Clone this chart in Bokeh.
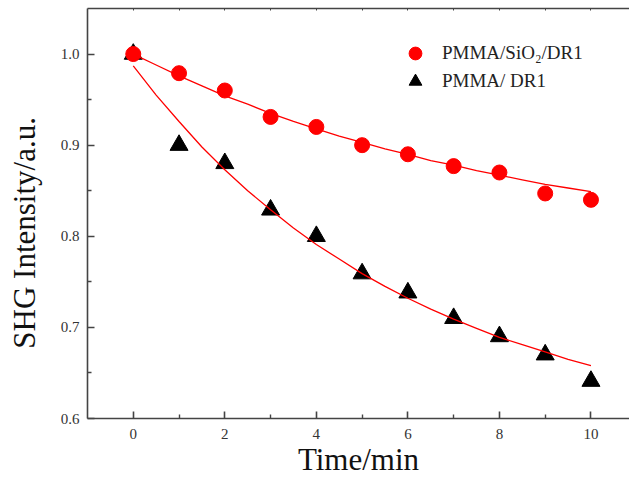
from bokeh.plotting import figure
from bokeh.models import (Range1d, LinearAxis, FixedTicker, Legend, LegendItem,
                          NumeralTickFormatter)
from bokeh.embed import file_html
from bokeh.resources import INLINE

# ---- data ----
time_min = [0, 1, 2, 3, 4, 5, 6, 7, 8, 9, 10]
shg_sio2 = [1.000, 0.979, 0.960, 0.931, 0.920, 0.900, 0.890, 0.877, 0.870, 0.847, 0.840]
shg_pmma = [1.000, 0.900, 0.880, 0.829, 0.800, 0.759, 0.738, 0.710, 0.690, 0.670, 0.641]

fit_time = [0, 0.5, 1, 1.5, 2, 2.5, 3, 3.5, 4, 4.5, 5, 5.5, 6, 6.5, 7, 7.5, 8, 8.5, 9, 9.5, 10]
fit_sio2 = [1.000, 0.988, 0.976, 0.965, 0.954, 0.945, 0.935, 0.926, 0.918, 0.910, 0.903,
            0.896, 0.890, 0.883, 0.878, 0.872, 0.867, 0.862, 0.857, 0.853, 0.849]
fit_pmma = [0.987, 0.955, 0.926, 0.898, 0.873, 0.850, 0.829, 0.809, 0.791, 0.775, 0.759,
            0.745, 0.732, 0.720, 0.709, 0.699, 0.689, 0.681, 0.673, 0.665, 0.658]

x_major = [0, 2, 4, 6, 8, 10]
x_minor = [1, 3, 5, 7, 9]
y_major = [0.6, 0.7, 0.8, 0.9, 1.0]
y_minor = [0.65, 0.75, 0.85, 0.95]

FONT = "Liberation Serif"
AX = "#444444"
RED = "#ff0000"

p = figure(width=629, height=479, output_backend="svg", toolbar_location=None,
           x_range=Range1d(-1.0, 10.842), y_range=Range1d(0.6, 1.05),
           min_border_left=87, min_border_right=0, min_border_top=8, min_border_bottom=61)
p.xgrid.visible = False
p.ygrid.visible = False
p.outline_line_color = None
p.background_fill_color = "white"
p.border_fill_color = "white"

for ax in (p.xaxis[0], p.yaxis[0]):
    ax.axis_line_color = AX
    ax.axis_line_width = 1.6
    ax.major_tick_line_color = AX
    ax.minor_tick_line_color = AX
    ax.major_tick_line_width = 1.6
    ax.minor_tick_line_width = 1.4
    ax.major_tick_in = 7
    ax.major_tick_out = 0
    ax.minor_tick_in = 4
    ax.minor_tick_out = 0
    ax.major_label_text_font = FONT
    ax.major_label_text_font_size = "15px"
    ax.major_label_text_color = "#333333"
    ax.axis_label_text_font = FONT
    ax.axis_label_text_font_size = "31px"
    ax.axis_label_text_font_style = "normal"
    ax.axis_label_text_color = "#111111"

p.xaxis[0].ticker = FixedTicker(ticks=x_major, minor_ticks=x_minor)
p.xaxis[0].major_label_standoff = 10
p.xaxis[0].axis_label = "Time/min"
p.xaxis[0].axis_label_standoff = 0
p.xaxis[0].axis_label_text_baseline = "middle"
p.yaxis[0].ticker = FixedTicker(ticks=y_major, minor_ticks=y_minor)
p.yaxis[0].formatter = NumeralTickFormatter(format="0.0")
p.yaxis[0].major_label_standoff = 8
p.yaxis[0].axis_label = "SHG Intensity/a.u." + "\u00a0" * 5
p.yaxis[0].axis_label_standoff = 16

top = LinearAxis(ticker=FixedTicker(ticks=list(range(0, 11))))
top.axis_line_color = AX
top.axis_line_width = 1.6
top.major_tick_line_color = AX
top.major_tick_in = 2
top.major_tick_out = 0
top.minor_tick_line_color = None
top.major_label_text_font_size = "0px"
top.major_label_standoff = 0
p.add_layout(top, "above")

r_pmma = p.scatter(time_min, shg_pmma, marker="triangle", size=18,
                   fill_color="black", line_color="black")
r_sio2 = p.scatter(time_min, shg_sio2, marker="circle", size=15,
                   fill_color=RED, line_color=RED)
p.line(fit_time, fit_sio2, line_color=RED, line_width=1.3)
p.line(fit_time, fit_pmma, line_color=RED, line_width=1.3)

legend_style = dict(orientation="vertical", glyph_width=32, glyph_height=32,
                    padding=0, margin=0, label_standoff=11, label_text_font=FONT,
                    label_text_font_size="19px", label_text_color="#222222",
                    border_line_color=None, background_fill_alpha=0)
p.add_layout(Legend(items=[LegendItem(label="PMMA/SiO\u2082/DR1", renderers=[r_sio2])],
                    location=(312, 349), **legend_style))
p.add_layout(Legend(items=[LegendItem(label="PMMA/ DR1", renderers=[r_pmma])],
                    location=(312, 321), **legend_style))

open("out.html", "w").write(file_html(p, INLINE))
